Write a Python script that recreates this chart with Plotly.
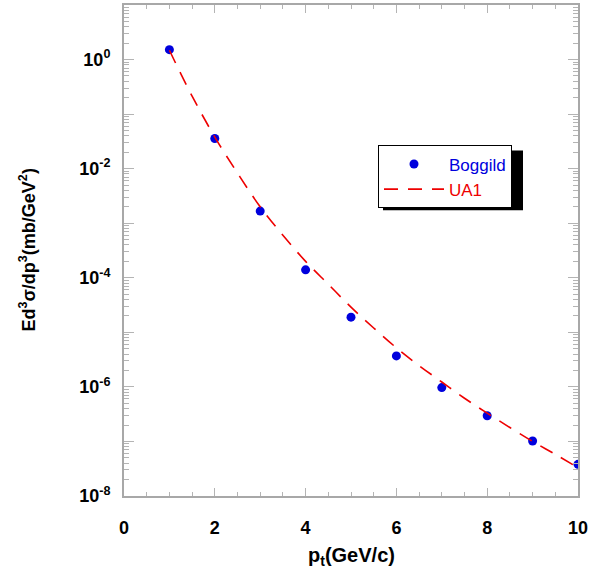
import plotly.graph_objects as go

# Boggild data points
pt_data = [1, 2, 3, 4, 5, 6, 7, 8, 9, 10]
sigma_data = [1.52, 3.57e-2, 1.67e-3, 1.40e-4, 1.9e-5, 3.7e-6, 9.7e-7, 2.96e-7, 1.02e-7, 3.8e-8]

# UA1 curve
pt_ua1 = [1.0, 1.5, 2.0, 2.5, 3.0, 3.5, 4.0, 4.5, 5.0, 5.5, 6.0, 6.5, 7.0, 7.5, 8.0, 8.5, 9.0, 9.5, 10.0]
sigma_ua1 = [1.48, 0.214, 3.8e-2, 8.3e-3, 2.0e-3, 6.0e-4, 2.0e-4, 7.6e-5, 2.9e-5, 1.2e-5,
             5.2e-6, 2.45e-6, 1.23e-6, 6.2e-7, 3.3e-7, 1.8e-7, 1.0e-7, 5.8e-8, 3.3e-8]

y_tickvals = [1e-8, 1e-6, 1e-4, 1e-2, 1]
y_ticktext = ["10<sup>-8</sup>", "10<sup>-6</sup>", "10<sup>-4</sup>", "10<sup>-2</sup>", "10<sup>0</sup>"]
y_oddvals = [1e-7, 1e-5, 1e-3, 1e-1, 10]
x_tickvals = [0, 2, 4, 6, 8, 10]

FONT = "Liberation Sans, Arial, sans-serif"
AX = "#a8a8a8"
TK = "#b4b4b4"

fig = go.Figure()
fig.add_trace(go.Scatter(
    x=pt_data, y=sigma_data, mode="markers",
    name="<span style='color:#0000dd'>Boggild</span>",
    marker=dict(color="#0000dd", size=9),
))
fig.add_trace(go.Scatter(
    x=pt_ua1, y=sigma_ua1, mode="lines", line_shape="spline",
    name="<span style='color:#ee0000'>UA1</span>",
    line=dict(color="#ee0000", width=1.6, dash="14px,10px"),
))
# invisible trace to carry the unlabeled odd-decade ticks
fig.add_trace(go.Scatter(
    x=[None], y=[None], yaxis="y2", showlegend=False, hoverinfo="skip",
))

W, H = 603, 577
L, R, T, B = 124, 578, 3, 496
pw, ph = R - L, B - T

def px(xpix):
    return (xpix - L) / pw

def py(ypix):
    return (B - ypix) / ph

fig.update_layout(
    width=W, height=H,
    margin=dict(l=L, r=W - R, t=T, b=H - B),
    paper_bgcolor="white", plot_bgcolor="white",
    font=dict(family=FONT, color="black"),
    showlegend=True,
    legend=dict(
        x=px(378), y=py(144), xanchor="left", yanchor="top",
        bgcolor="white", bordercolor="black", borderwidth=1,
        font=dict(size=17, family=FONT),
        itemwidth=60, tracegroupgap=0,
    ),
    shapes=[dict(
        type="rect", xref="paper", yref="paper",
        x0=px(383), x1=px(523), y0=py(149), y1=py(209),
        fillcolor="black", line=dict(width=0), layer="above",
    )],
    annotations=[
        dict(text="<b>Ed<sup>3</sup>σ/dp<sup>3</sup>(mb/GeV<sup>2</sup>)</b>",
             xref="paper", yref="paper", x=0, y=0.5, xshift=-96,
             textangle=-90, showarrow=False, font=dict(size=18, family=FONT),
             xanchor="center", yanchor="middle"),
        dict(text="<b>p<sub>t</sub>(GeV/c)</b>",
             xref="paper", yref="paper", x=0.5, y=0, yshift=-60,
             showarrow=False, font=dict(size=20, family=FONT),
             xanchor="center", yanchor="middle"),
    ],
    yaxis2=dict(
        type="log", range=[-8, 1], overlaying="y", side="left",
        tickvals=y_oddvals, showticklabels=False,
        ticks="inside", ticklen=10, tickcolor=TK, tickwidth=1,
        showline=False, showgrid=False, zeroline=False, mirror="ticks",
    ),
)

fig.update_xaxes(
    range=[0, 10], tickvals=x_tickvals,
    showgrid=False, zeroline=False,
    showline=True, linecolor=AX, linewidth=2, mirror="ticks",
    ticks="inside", ticklen=8, tickcolor=TK, tickwidth=1,
    tickfont=dict(size=18, family=FONT, weight="bold"),
    ticklabelstandoff=14,
    minor=dict(dtick=0.5, ticks="inside", ticklen=4, tickcolor=TK, showgrid=False),
)
fig.update_layout(yaxis=dict(
    type="log", range=[-8, 1], tickvals=y_tickvals, ticktext=y_ticktext,
    showgrid=False, zeroline=False,
    showline=True, linecolor=AX, linewidth=2, mirror="ticks",
    ticks="inside", ticklen=10, tickcolor=TK, tickwidth=1,
    tickfont=dict(size=18, family=FONT, weight="bold"),
    ticklabelstandoff=8,
    minor=dict(dtick="D1", ticks="inside", ticklen=5, tickcolor=TK, showgrid=False),
))

fig.write_html("out.html", config={"displayModeBar": False},
               post_script="document.body.style.margin='0';")
